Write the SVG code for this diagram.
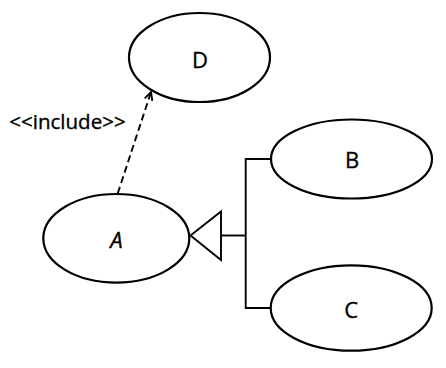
<svg xmlns="http://www.w3.org/2000/svg" width="446" height="368" viewBox="0 0 446 368">
<style>
.node ellipse{fill:#fff;stroke:#000;stroke-width:2.2}
.lbl{font-family:"Open Sans","Liberation Sans",sans-serif;font-size:22px;fill:#000;stroke:#000;stroke-width:0.35;text-anchor:middle}
.conn{fill:none;stroke:#000;stroke-width:1.9}
</style>
<defs>
<marker id="open" viewBox="0 0 10 10" refX="9" refY="5" markerWidth="10" markerHeight="10" markerUnits="userSpaceOnUse" orient="auto">
<path d="M1,1 L9,5 L1,9" fill="none" stroke="#000" stroke-width="1.9"/>
</marker>
</defs>
<rect width="446" height="368" fill="#fff"/>
<g id="connectors">
<path class="conn" d="M117.7,193.5 L151,92" stroke-dasharray="7,4" marker-end="url(#open)"/>
<text x="67.5" y="128.5" class="lbl" style="font-size:20.5px">&lt;&lt;include&gt;&gt;</text>
<path class="conn" d="M271,159 H245.7 V308 H271"/>
<path class="conn" d="M221,235.5 H245.7"/>
<path class="conn" d="M190.5,235.5 L221,211.5 V260 Z" fill="#fff"/>
</g>
<g id="node-D" class="node">
<ellipse cx="199.5" cy="57.5" rx="70.5" ry="44.5"/>
<text x="200" y="67.8" class="lbl">D</text>
</g>
<g id="node-A" class="node">
<ellipse cx="116.3" cy="238.3" rx="73" ry="44.3"/>
<text x="116.5" y="247.7" class="lbl" font-style="italic">A</text>
</g>
<g id="node-B" class="node">
<ellipse cx="351.5" cy="159" rx="80.5" ry="39.5"/>
<text x="352" y="168.4" class="lbl">B</text>
</g>
<g id="node-C" class="node">
<ellipse cx="351.2" cy="308" rx="80.5" ry="42.7"/>
<text x="351.3" y="317.8" class="lbl">C</text>
</g>
</svg>
